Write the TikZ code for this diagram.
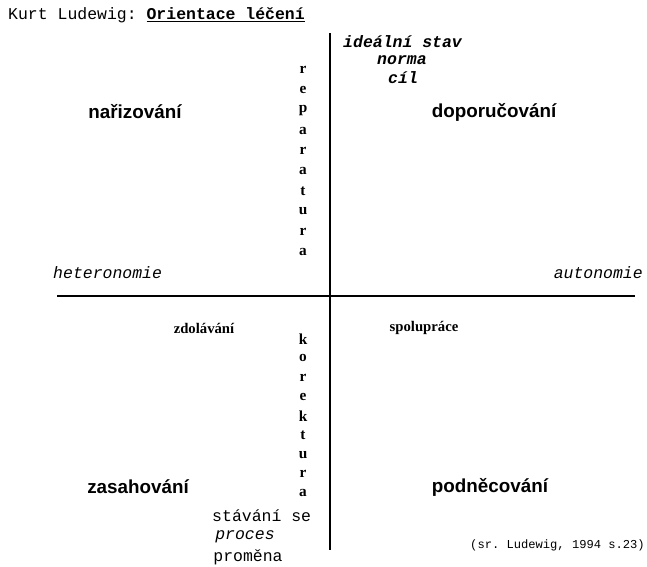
\documentclass[tikz,border=0pt]{standalone}
\usepackage{fontspec}
\setmainfont{Liberation Serif}
\setsansfont{Liberation Sans}
\setmonofont{Liberation Mono}
\usetikzlibrary{positioning}
\tikzset{
  axis/.style    = {draw=black, line width=1.3pt},
  mono/.style    = {font=\fontsize{14}{16}\selectfont\ttfamily, inner sep=0pt},
  monoit/.style  = {font=\fontsize{14}{16}\selectfont\ttfamily\itshape, inner sep=0pt},
  monobi/.style  = {font=\fontsize{14}{16}\selectfont\ttfamily\bfseries\itshape, inner sep=0pt},
  monos/.style   = {font=\fontsize{10.3}{12}\selectfont\ttfamily, inner sep=0pt},
  quad/.style    = {font=\fontsize{16}{18}\selectfont\sffamily\bfseries, inner sep=0pt},
  small/.style   = {font=\fontsize{12.5}{14}\selectfont\rmfamily\bfseries, inner sep=0pt},
  letter/.style  = {font=\fontsize{13}{14}\selectfont\rmfamily\bfseries, inner sep=0pt},
}
\begin{document}
\begin{tikzpicture}[x=0.85pt,y=-0.85pt]
  \useasboundingbox (0,0) rectangle (647,566);

  % title
  \node[mono, anchor=west] (title) at (8,15) {Kurt Ludewig: \underline{\textbf{Orientace léčení}}};

  % axes
  \coordinate (top) at (330,33);
  \coordinate (bottom) at (330,550);
  \coordinate (left) at (57,296);
  \coordinate (right) at (635,296);
  \draw[axis] (top) -- (bottom);
  \draw[axis] (left) -- (right);

  % upper right goal
  \node[monobi, anchor=west] (ideal) at (343,42) {ideální stav};
  \node[monobi, anchor=west] (norma) at (377,60) {norma};
  \node[monobi, anchor=west] (cil) at (388,78) {cíl};

  % quadrants
  \node[quad] (nariz) at (135,112) {nařizování};
  \node[quad] (dopor) at (494,112) {doporučování};
  \node[quad] (zasah) at (138,487) {zasahování};
  \node[quad] (podnec) at (490,487) {podněcování};

  \node[monoit, anchor=west] (hetero) at (53,273) {heteronomie};
  \node[monoit, anchor=east] (auto) at (643,273) {autonomie};

  \node[small] (zdol) at (204,328) {zdolávání};
  \node[small] (spolu) at (424,328) {spolupráce};

  % vertical words
  \foreach \ch [count=\i from 0] in {r,e,p,a,r,a,t,u,r,a}
    \node[letter] (rep\i) at (303,70+20.2*\i) {\ch};
  \foreach \ch [count=\i from 0] in {k,o,r,e,k,t,u,r,a}
    \node[letter] (kor\i) at (303,339+19.3*\i) {\ch};

  % lower left process
  \node[mono, anchor=west] (stavani) at (212,516) {stávání se};
  \node[monoit] (proces) at (245,537) {proces};
  \node[mono] (promena) at (248,557) {proměna};

  \node[monos, anchor=east] (cite) at (645,545) {(sr. Ludewig, 1994 s.23)};
\end{tikzpicture}
\end{document}
